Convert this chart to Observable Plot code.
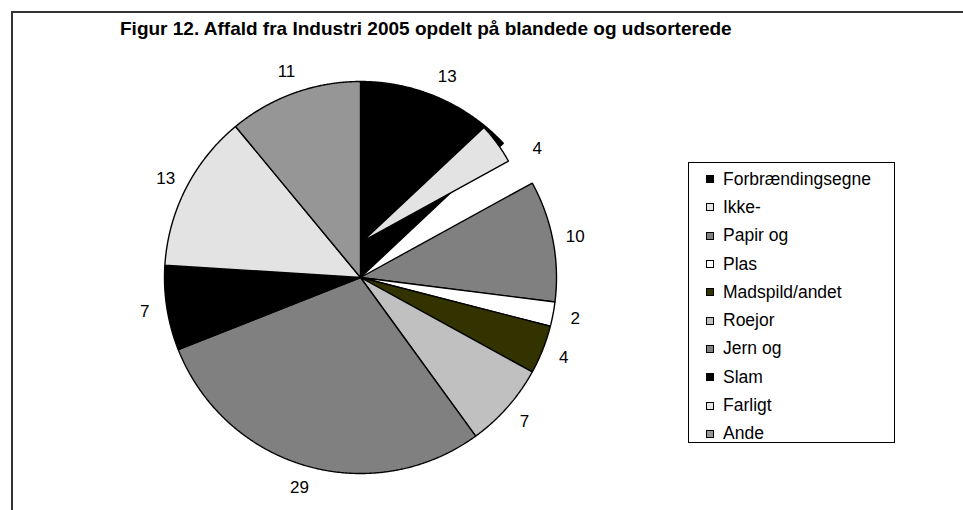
<!DOCTYPE html>
<html><head><meta charset="utf-8">
<script src="https://cdn.jsdelivr.net/npm/d3@7"></script>
<script src="https://cdn.jsdelivr.net/npm/@observablehq/plot@0.6"></script>
<style>
html,body{margin:0;padding:0;background:#fff;}
#wrap{position:relative;width:963px;height:510px;overflow:hidden;font-family:"Liberation Sans",Arial,sans-serif;color:#000;}
#chart{position:absolute;left:0;top:0;}
#frame{position:absolute;left:11px;top:11px;width:1000px;height:600px;border-left:2px solid #333;border-top:2px solid #333;}
#title{position:absolute;left:120px;top:18px;font-weight:bold;font-size:19px;white-space:nowrap;}
#legend{position:absolute;left:688px;top:162px;width:207px;height:281px;border:1px solid #000;box-sizing:border-box;padding-top:2px;}
.item{height:28.3px;display:flex;align-items:center;font-size:17.5px;white-space:nowrap;}
.sw{width:6px;height:6px;border:1px solid #000;margin-left:17px;margin-right:9px;flex:none;}
</style>
</head><body>
<div id="wrap">
  <div id="chart"></div>
  <div id="frame"></div>
  <div id="title"></div>
  <div id="legend"></div>
</div>
<script>
const titleText = "Figur 12. Affald fra Industri 2005 opdelt på blandede og udsorterede";
const categories = ["Forbrændingsegne","Ikke-","Papir og","Plas","Madspild/andet","Roejor","Jern og","Slam","Farligt","Ande"];
const values = [13, 4, 10, 2, 4, 7, 29, 7, 13, 11];
const palette = ["#000000","#e3e3e3","#808080","#ffffff","#333300","#c0c0c0","#808080","#000000","#e3e3e3","#969696"];
const exploded = "Ikke-";

document.getElementById("title").textContent = titleText;

const arcs = d3.pie().sort(null).value(d => d)(values);
const slicePts = [];
const labels = [];
const order = d3.range(values.length).sort((a, b) => (categories[a] === exploded) - (categories[b] === exploded));
for (const i of order) {
  const a = arcs[i];
  const ex = categories[i] === exploded;
  const r = ex ? 0.85 : 1;
  const ox = ex ? 0.01 : 0, oy = ex ? 0.184 : 0;
  const cat = categories[i];
  slicePts.push({k: i, cat, x: ox, y: oy});
  const n = Math.max(2, Math.ceil((a.endAngle - a.startAngle) / 0.005));
  for (let j = 0; j <= n; j++) {
    const t = a.startAngle + (a.endAngle - a.startAngle) * j / n;
    slicePts.push({k: i, cat, x: ox + r * Math.sin(t), y: oy + r * Math.cos(t)});
  }
  slicePts.push({k: i, cat, x: ox, y: oy});
  const mid = (a.startAngle + a.endAngle) / 2;
  labels.push({x: 1.115 * Math.sin(mid), y: 1.115 * Math.cos(mid), text: String(values[i])});
}

const chart = Plot.plot({
  width: 963, height: 510,
  marginLeft: 164, marginRight: 407, marginTop: 81, marginBottom: 37,
  x: {domain: [-1, 1], axis: null},
  y: {domain: [-1, 1], axis: null},
  color: {domain: categories, range: palette},
  style: {background: "transparent", fontFamily: "Liberation Sans, Arial, sans-serif"},
  marks: [
    Plot.line(slicePts, {x: "x", y: "y", z: "k", fill: "cat", stroke: "#000", strokeWidth: 1.4, strokeLinejoin: "miter"}),
    Plot.text(labels, {x: "x", y: "y", text: "text", fontSize: 17, fill: "#000"})
  ]
});
document.getElementById("chart").appendChild(chart);

const legend = d3.select("#legend");
categories.forEach((c, i) => {
  const it = legend.append("div").attr("class", "item");
  it.append("div").attr("class", "sw").style("background", palette[i]);
  it.append("span").text(c);
});
</script>
</body></html>
